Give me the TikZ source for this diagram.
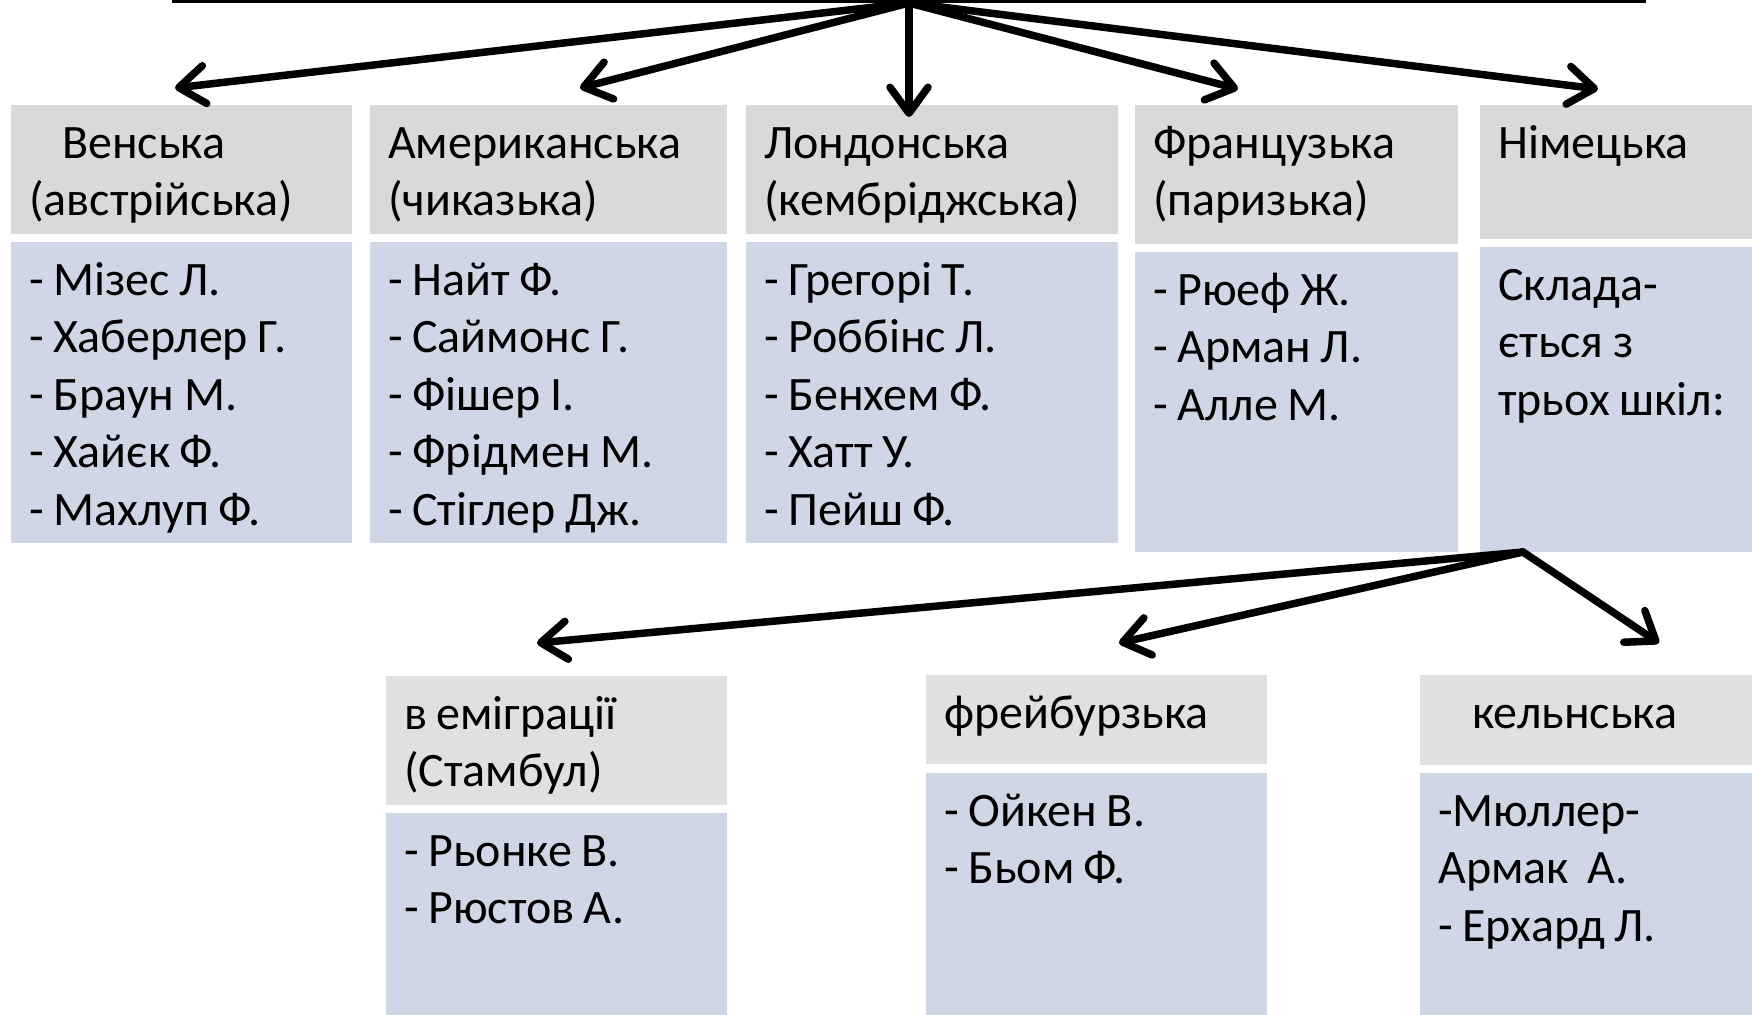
\documentclass[tikz,border=0pt]{standalone}
\usepackage{fontspec}
\setmainfont{Carlito}
\usetikzlibrary{arrows.meta, positioning}

\definecolor{headgray}{RGB}{217,217,217}
\definecolor{lowgray}{RGB}{224,224,224}
\definecolor{bodyblue}{RGB}{207,214,230}

\tikzset{
  cell/.style={anchor=north west, inner xsep=18pt, inner ysep=0pt, align=left,
    text height=53pt, font=\fontsize{48}{57.5}\selectfont,
    execute at begin node={\spaceskip=9.5pt\relax}},
  head/.style={cell, fill=headgray},
  lowhead/.style={cell, fill=lowgray},
  body/.style={cell, fill=bodyblue},
  topbox/.style={draw, line width=3pt, minimum width=1471pt, minimum height=60pt, anchor=south},
  branch/.style={draw, line width=7.5pt, line cap=round,
    -{Straight Barb[length=26pt, width=38pt, round]}}
}

\begin{document}
\begin{tikzpicture}[x=1pt, y=-1pt]
  \useasboundingbox (0,0) rectangle (1752,1014);

  % title box, only its lower edge is visible
  \node[topbox] (title) at (909,3) {};

  % the five schools
  \node[head, text width=305pt, text depth=76pt] (vienna) at (11,105)
    {\hspace*{33pt}Венська\\(австрійська)};
  \node[body, text width=305pt, text depth=248pt] (viennaL) at (11,242)
    {- Мізес Л.\\- Хаберлер Г.\\- Браун М.\\- Хайєк Ф.\\- Махлуп Ф.};

  \node[head, text width=321pt, text depth=76pt] (chicago) at (370,105)
    {Американська\\(чиказька)};
  \node[body, text width=321pt, text depth=248pt] (chicagoL) at (370,242)
    {- Найт Ф.\\- Саймонс Г.\\- Фішер І.\\- Фрідмен М.\\- Стіглер Дж.};

  \node[head, text width=336pt, text depth=76pt] (london) at (746,105)
    {Лондонська\\(кембріджська)};
  \node[body, text width=336pt, text depth=248pt] (londonL) at (746,242)
    {- Грегорі Т.\\- Роббінс Л.\\- Бенхем Ф.\\- Хатт У.\\- Пейш Ф.};

  \node[head, text width=287pt, text depth=86pt] (paris) at (1135,105)
    {Французька\\(паризька)};
  \node[body, text width=287pt, text depth=247pt] (parisL) at (1135,252)
    {- Рюеф Ж.\\- Арман Л.\\- Алле М.};

  \node[head, text width=300pt, text depth=81pt] (german) at (1480,105)
    {Німецька};
  \node[body, text width=300pt, text depth=252pt] (germanL) at (1480,247)
    {Склада-\\ється з\\трьох шкіл:};

  % the three German schools
  \node[lowhead, text width=305pt, text depth=76pt] (exile) at (386,676)
    {в еміграції\\(Стамбул)};
  \node[body, text width=305pt, text depth=160pt] (exileL) at (386,813)
    {- Рьонке В.\\- Рюстов А.};

  \node[lowhead, text width=305pt, text depth=36pt] (freiburg) at (926,675)
    {фрейбурзька};
  \node[body, text width=305pt, text depth=200pt] (freiburgL) at (926,773)
    {- Ойкен В.\\- Бьом Ф.};

  \node[lowhead, text width=304pt, text depth=37pt] (cologne) at (1420,675)
    {\hspace*{34pt}кельнська};
  \node[body, text width=304pt, text depth=200pt] (cologneL) at (1420,773)
    {-Мюллер-\\Армак~~А.\\- Ерхард Л.};

  % arrow ends
  \coordinate (fork) at (1523,552);
  \coordinate (toVienna) at (175,88);
  \coordinate (toChicago) at (580,88);
  \coordinate (toLondon) at (909,117);
  \coordinate (toParis) at (1238,89);
  \coordinate (toGerman) at (1598,89);
  \coordinate (toExile) at (537,643);
  \coordinate (toFreiburg) at (1119,643);
  \coordinate (toCologne) at (1659,643);

  % connect the boxes with arrows
  \path
    (title.south) edge[branch] (toVienna)
    (title.south) edge[branch] (toChicago)
    (title.south) edge[branch] (toLondon)
    (title.south) edge[branch] (toParis)
    (title.south) edge[branch] (toGerman)
    (fork) edge[branch] (toExile)
    (fork) edge[branch] (toFreiburg)
    (fork) edge[branch] (toCologne);
\end{tikzpicture}
\end{document}
